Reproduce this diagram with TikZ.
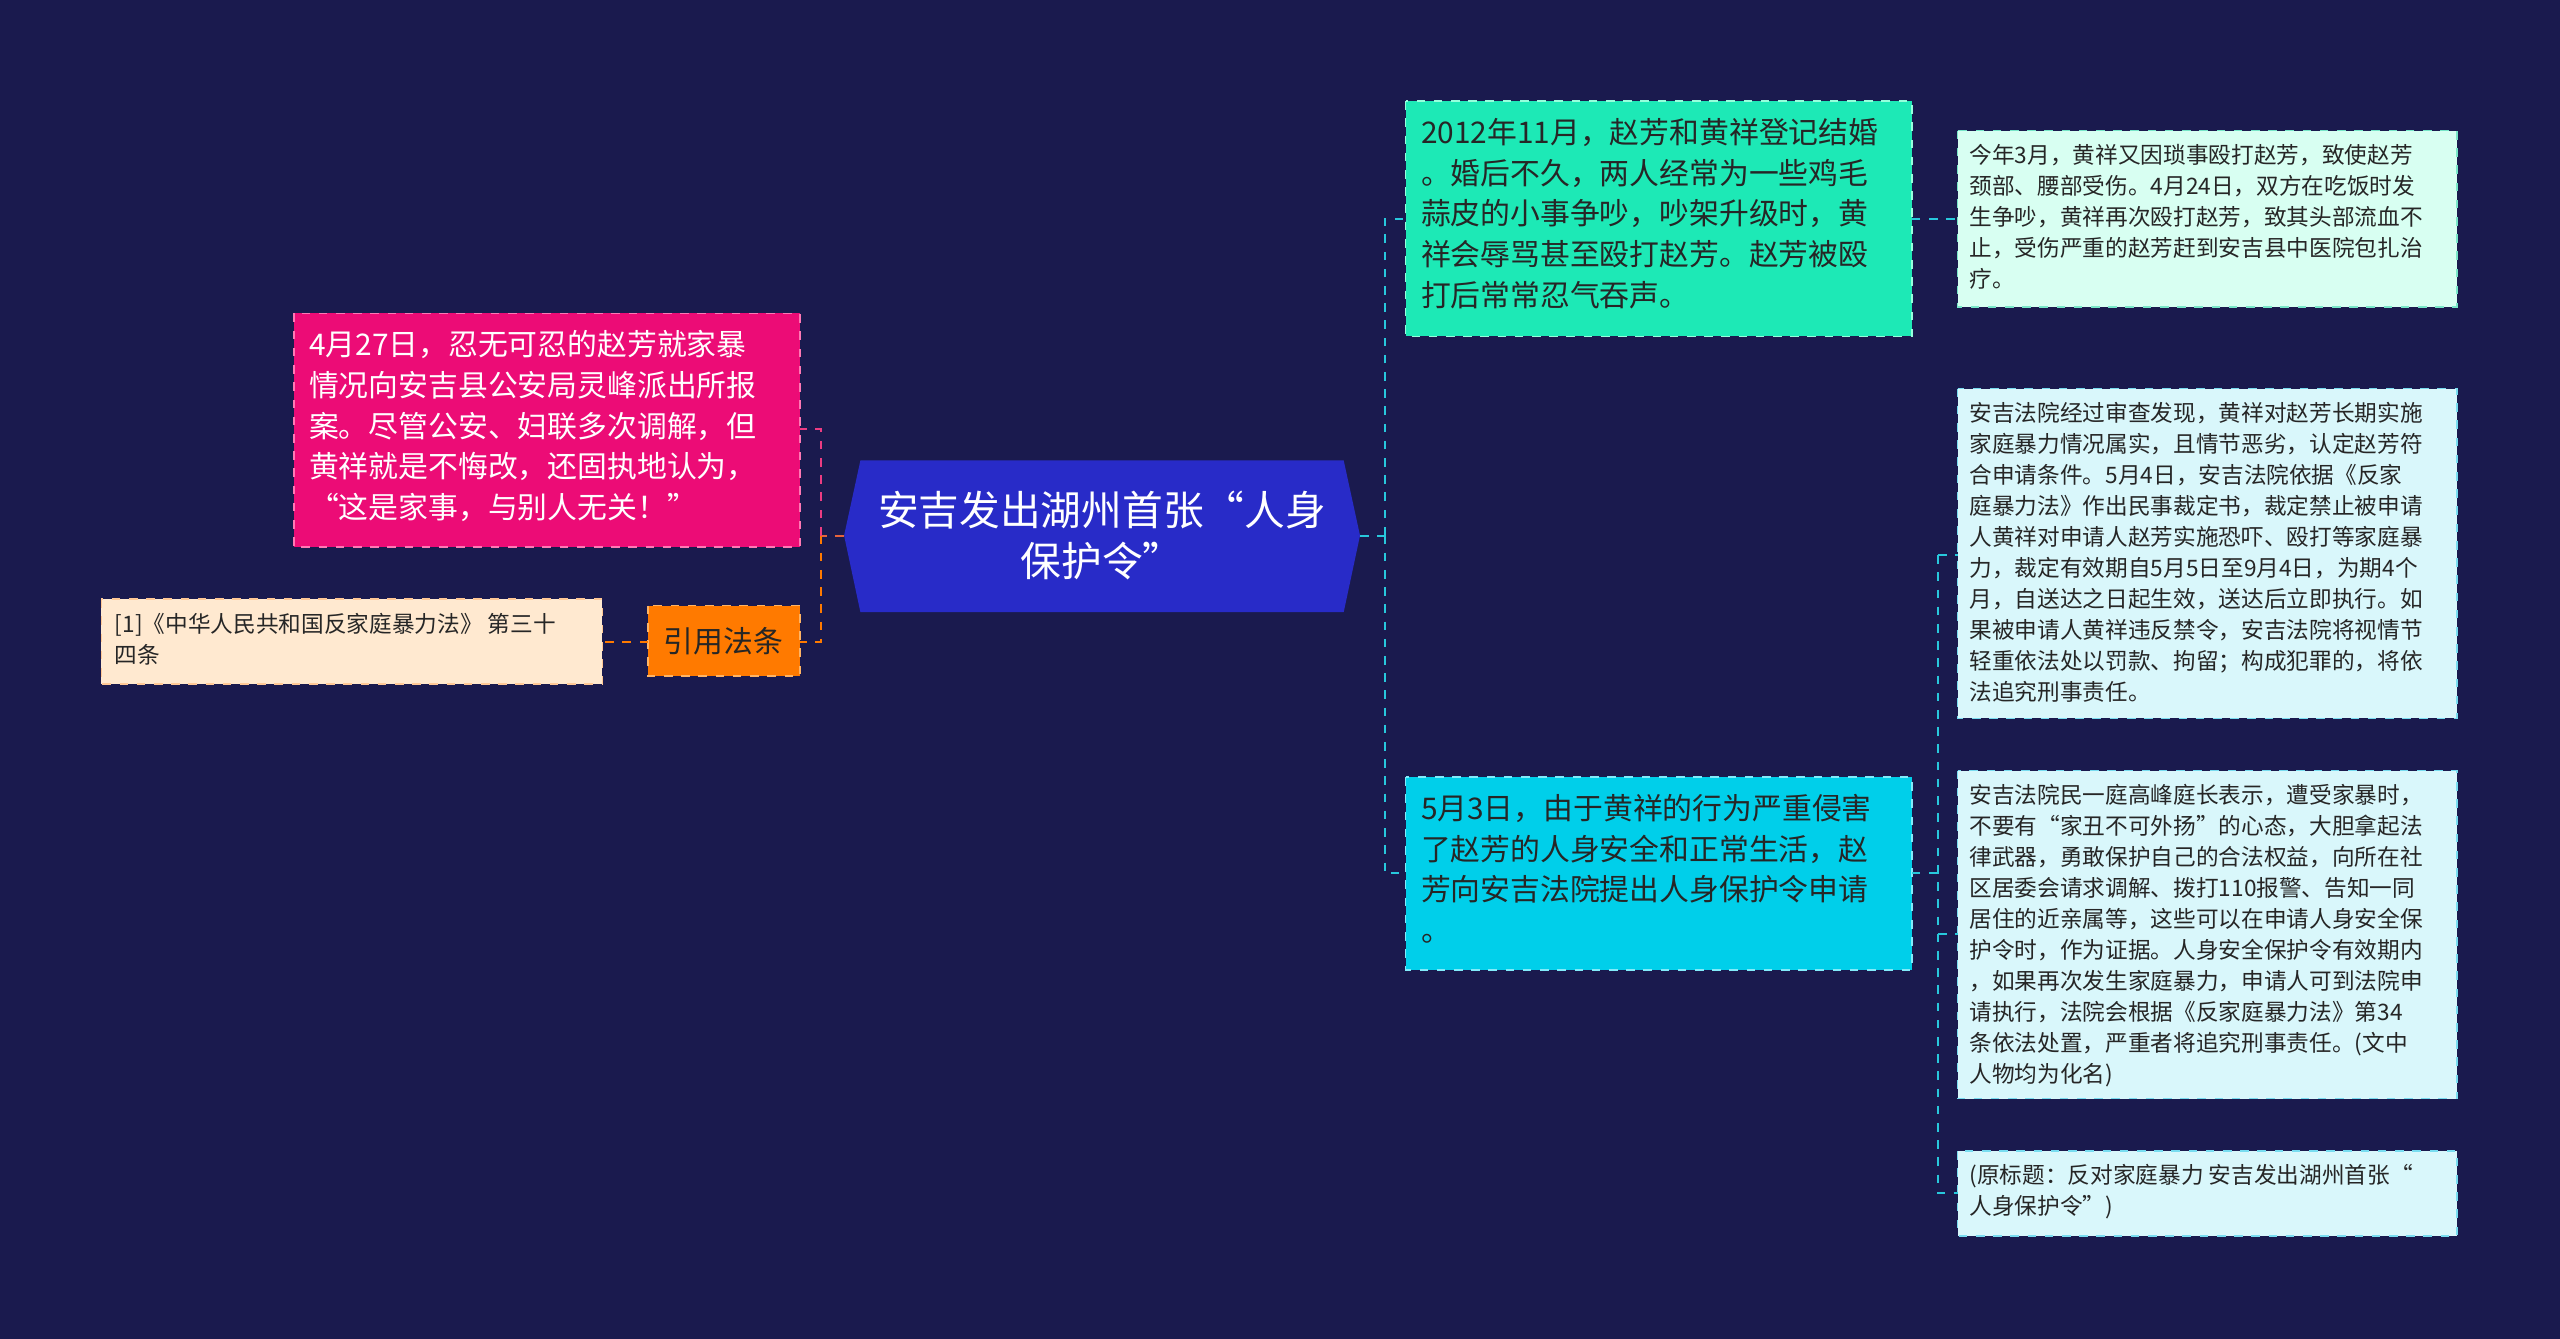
\documentclass[tikz,border=0pt]{standalone}
\usepackage{fontspec}
\setmainfont{Noto Sans CJK SC}
\begin{document}
\begin{tikzpicture}[x=0.02cm,y=-0.02cm,
  big/.style={font=\fontsize{10.4pt}{14.2pt}\selectfont,align=left,anchor=north west,inner sep=0pt},
  small/.style={font=\fontsize{7.9pt}{10.8pt}\selectfont,align=left,anchor=north west,inner sep=0pt,text=black!85},
  box/.style={draw,dashed,line width=0.5pt},
  conn/.style={dashed,line width=0.7pt}]
\definecolor{bg}{HTML}{1A1A4E}
\fill[bg] (0,0) rectangle (1568,820);
% center
\fill[fill={rgb,255:red,40;green,43;blue,200}] (527,282)--(823,282)--(833,328)--(823,375)--(527,375)--(517,328)--cycle;
\node[font=\fontsize{14.2pt}{17.5pt}\selectfont,align=center,text=white] (c) at (675,328) {安吉发出湖州首张“人身\\保护令”};
\coordinate (cl) at (517,328); \coordinate (cr) at (833,328);
% left pink
\filldraw[box,fill={rgb,255:red,236;green,12;blue,118},draw={rgb,255:red,255;green,120;blue,180}] (180,192) rectangle (490,335);
\node[big,text=white] (p) at (189,202) {4月27日，忍无可忍的赵芳就家暴\\情况向安吉县公安局灵峰派出所报\\案。尽管公安、妇联多次调解，但\\黄祥就是不悔改，还固执地认为，\\“这是家事，与别人无关！”};
\coordinate (pr) at (490,263);
% orange
\filldraw[box,fill={rgb,255:red,255;green,122;blue,0},draw={rgb,255:red,255;green,180;blue,100}] (397,371) rectangle (490,414);
\node[font=\fontsize{10.4pt}{12pt}\selectfont,text=black!85] (o) at (443,393) {引用法条};
\coordinate (or) at (490,393); \coordinate (ol) at (397,393);
\filldraw[box,fill={rgb,255:red,255;green,233;blue,208},draw={rgb,255:red,255;green,200;blue,150}] (62,367) rectangle (369,419);
\node[small] (ref) at (70,375) {[1]《中华人民共和国反家庭暴力法》 第三十\\四条};
\coordinate (refr) at (369,393);
% left connectors
\draw[conn,draw={rgb,255:red,230;green,100;blue,60}] (cl) -- (503,328);
\draw[conn,draw={rgb,255:red,236;green,60;blue,130}] (503,328) -- (503,263) -- (pr);
\draw[conn,draw={rgb,255:red,255;green,122;blue,0}] (503,328) -- (503,393) -- (or);
\draw[conn,draw={rgb,255:red,255;green,122;blue,0}] (ol) -- (refr);
% right green
\filldraw[box,fill={rgb,255:red,29;green,233;blue,182},draw={rgb,255:red,150;green,255;blue,220}] (861,62) rectangle (1171,206);
\node[big,text=black!85] (g) at (870,72) {2012年11月，赵芳和黄祥登记结婚\\。婚后不久，两人经常为一些鸡毛\\蒜皮的小事争吵，吵架升级时，黄\\祥会辱骂甚至殴打赵芳。赵芳被殴\\打后常常忍气吞声。};
\coordinate (gl) at (861,134); \coordinate (gr) at (1171,134);
% right cyan
\filldraw[box,fill={rgb,255:red,0;green,207;blue,234},draw={rgb,255:red,130;green,235;blue,250}] (861,476) rectangle (1171,594);
\node[big,text=black!85] (b) at (870,486) {5月3日，由于黄祥的行为严重侵害\\了赵芳的人身安全和正常生活，赵\\芳向安吉法院提出人身保护令申请\\。};
\coordinate (bl) at (861,535); \coordinate (br) at (1171,535);
% leaves
\filldraw[box,fill={rgb,255:red,216;green,255;blue,242},draw={rgb,255:red,120;green,230;blue,200}] (1199,80) rectangle (1505,188);
\node[small] (l1) at (1206,88) {今年3月，黄祥又因琐事殴打赵芳，致使赵芳\\颈部、腰部受伤。4月24日，双方在吃饭时发\\生争吵，黄祥再次殴打赵芳，致其头部流血不\\止，受伤严重的赵芳赶到安吉县中医院包扎治\\疗。};
\coordinate (l1l) at (1199,134);
\tikzset{lf/.style={box,fill={rgb,255:red,217;green,247;blue,251},draw={rgb,255:red,120;green,220;blue,240}}}
\filldraw[lf] (1199,238) rectangle (1505,440);
\node[small] (l2) at (1206,246) {安吉法院经过审查发现，黄祥对赵芳长期实施\\家庭暴力情况属实，且情节恶劣，认定赵芳符\\合申请条件。5月4日，安吉法院依据《反家\\庭暴力法》作出民事裁定书，裁定禁止被申请\\人黄祥对申请人赵芳实施恐吓、殴打等家庭暴\\力，裁定有效期自5月5日至9月4日，为期4个\\月，自送达之日起生效，送达后立即执行。如\\果被申请人黄祥违反禁令，安吉法院将视情节\\轻重依法处以罚款、拘留；构成犯罪的，将依\\法追究刑事责任。};
\coordinate (l2l) at (1199,340);
\filldraw[lf] (1199,472) rectangle (1505,673);
\node[small] (l3) at (1206,480) {安吉法院民一庭高峰庭长表示，遭受家暴时，\\不要有“家丑不可外扬”的心态，大胆拿起法\\律武器，勇敢保护自己的合法权益，向所在社\\区居委会请求调解、拨打110报警、告知一同\\居住的近亲属等，这些可以在申请人身安全保\\护令时，作为证据。人身安全保护令有效期内\\，如果再次发生家庭暴力，申请人可到法院申\\请执行，法院会根据《反家庭暴力法》第34\\条依法处置，严重者将追究刑事责任。(文中\\人物均为化名)};
\coordinate (l3l) at (1199,572);
\filldraw[lf] (1199,705) rectangle (1505,757);
\node[small] (l4) at (1206,713) {(原标题：反对家庭暴力 安吉发出湖州首张“\\人身保护令”)};
\coordinate (l4l) at (1199,731);
% right connectors
\tikzset{rc/.style={conn,draw={rgb,255:red,40;green,200;blue,220}}}
\draw[rc] (cr) -- (848,328);
\draw[rc] (848,328) -- (848,134) -- (gl);
\draw[rc] (848,328) -- (848,535) -- (bl);
\draw[rc] (gr) -- (l1l);
\draw[rc] (br) -- (1187,535);
\draw[rc] (1187,340) -- (l2l);
\draw[rc] (1187,340) -- (1187,731) -- (l4l);
\draw[rc] (1187,572) -- (l3l);
\end{tikzpicture}
\end{document}
